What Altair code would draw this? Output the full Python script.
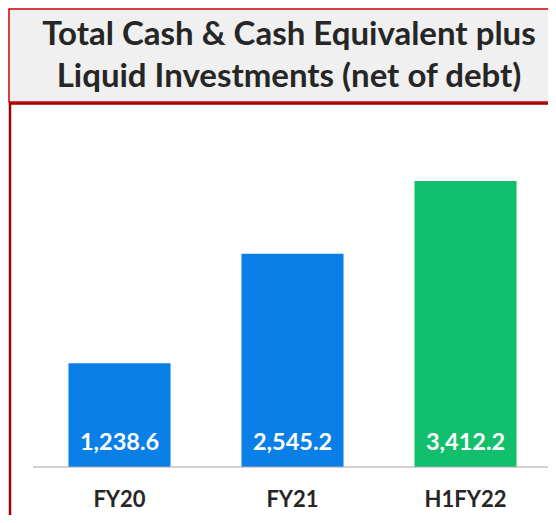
import altair as alt
import pandas as pd

categories = ["FY20", "FY21", "H1FY22"]
values = [1238.6, 2545.2, 3412.2]
labels = ["1,238.6", "2,545.2", "3,412.2"]
bar_colors = ["#0A7FE8", "#0A7FE8", "#12BF6C"]
title_lines = ["Total Cash & Cash Equivalent plus", "Liquid Investments (net of debt)"]

df = pd.DataFrame({"cat": categories, "val": values, "lab": labels})
tdf = pd.DataFrame({"line": title_lines, "ypos": [27, 69]})

FONT = "Lato"

xs = alt.Scale(domain=categories, range=[25, 544], paddingInner=0.41, paddingOuter=0.205)
ys = alt.Scale(domain=[0, 5476], range=[459, 0])
cs = alt.Scale(domain=categories, range=bar_colors)

base = alt.Chart(df)
one = pd.DataFrame({"a": [0]})

title_box = alt.Chart(one).mark_rect(
    fill="#F0F0F0", stroke="#D00000", strokeWidth=1.5
).encode(x=alt.value(1), x2=alt.value(560), y=alt.value(1), y2=alt.value(94))

hline = alt.Chart(one).mark_rule(
    color="#A00000", strokeWidth=2.5
).encode(x=alt.value(1), x2=alt.value(560), y=alt.value(95.5))

vline = alt.Chart(one).mark_rule(
    color="#A00000", strokeWidth=2.5
).encode(x=alt.value(2), y=alt.value(95), y2=alt.value(520))

title_text = alt.Chart(tdf).mark_text(
    font=FONT, fontSize=33, fontWeight="bold", color="#262626", baseline="middle", align="center"
).encode(x=alt.value(281), y=alt.Y("ypos:Q", scale=None, axis=None), text="line:N")

bars = base.mark_bar().encode(
    x=alt.X("cat:N", scale=xs, axis=None, sort=categories),
    y=alt.Y("val:Q", scale=ys, axis=None),
    color=alt.Color("cat:N", scale=cs, legend=None),
)

baseline = alt.Chart(pd.DataFrame({"z": [0]})).mark_rule(
    color="#A6A6A6", strokeWidth=1.2
).encode(x=alt.value(25), x2=alt.value(560), y=alt.Y("z:Q", scale=ys, axis=None))

val_text = base.mark_text(
    font=FONT, fontSize=23.5, fontWeight="bold", color="white", baseline="middle", dy=-24
).encode(
    x=alt.X("cat:N", scale=xs, sort=categories, axis=None),
    y=alt.Y("z:Q", scale=ys, axis=None),
    text="lab:N",
).transform_calculate(z="0")

cat_text = base.mark_text(
    font=FONT, fontSize=22, fontWeight="bold", color="#262626", baseline="middle"
).encode(
    x=alt.X("cat:N", scale=xs, sort=categories, axis=None),
    y=alt.value(492),
    text="cat:N",
)

chart = alt.layer(
    title_box, hline, vline, title_text, bars, baseline, val_text, cat_text
).resolve_scale(y="independent").properties(
    width=540, height=507, autosize=alt.AutoSizeParams(type="none"), padding=0
).configure_view(stroke=None)

chart.save("out.html", embed_options={"renderer": "svg", "actions": False})
